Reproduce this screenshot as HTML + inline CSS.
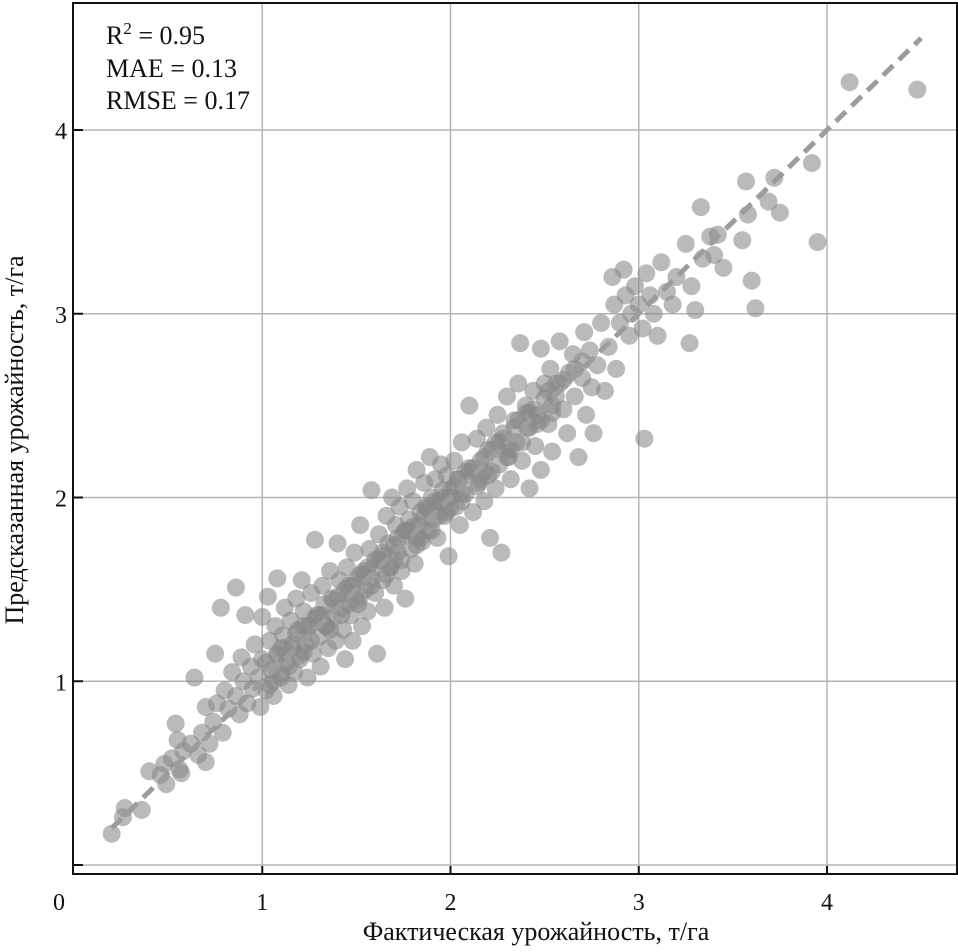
<!DOCTYPE html>
<html><head><meta charset="utf-8"><style>
body{margin:0;background:#fff;}
svg text{font-family:"Liberation Serif",serif;fill:#111;}
</style></head><body>
<svg id="chart" width="958" height="947" viewBox="0 0 958 947" xmlns="http://www.w3.org/2000/svg">
<g id="grid"></g>
<g id="pts"></g>
<g id="ref"></g>
<rect x="73" y="3" width="884" height="871" fill="none" stroke="#111" stroke-width="2"/>
<g id="ticks"></g>
<g font-size="26">
<text x="106" y="44">R<tspan dy="-10" font-size="17">2</tspan><tspan dy="10"> = 0.95</tspan></text>
<text x="106" y="77">MAE = 0.13</text>
<text x="106" y="109">RMSE = 0.17</text>
</g>
<text x="536" y="940" font-size="26" text-anchor="middle">Фактическая урожайность, т/га</text>
<text transform="translate(23,440) rotate(-90)" font-size="26" text-anchor="middle">Предсказанная урожайность, т/га</text>
</svg>
<script>
const xTicks=[0,1,2,3,4];
const yTicks=[1,2,3,4];
const actual=[0.20,0.26,0.27,0.36,0.40,0.46,0.49,0.48,0.52,0.54,0.55,0.56,0.58,0.57,0.62,0.64,0.66,0.68,0.70,0.70,0.72,0.74,0.75,0.76,0.78,0.79,0.80,0.82,0.84,0.86,0.86,0.88,0.89,0.90,0.91,0.92,0.94,0.95,0.96,0.98,0.99,1.00,1.00,1.02,1.03,1.04,1.05,1.06,1.07,1.08,1.08,1.10,1.11,1.12,1.13,1.14,1.15,1.16,1.17,1.18,1.19,1.20,1.21,1.22,1.23,1.24,1.25,1.26,1.27,1.28,1.29,1.30,1.31,1.32,1.33,1.34,1.35,1.36,1.37,1.38,1.39,1.40,1.41,1.42,1.43,1.44,1.45,1.46,1.47,1.48,1.49,1.50,1.51,1.52,1.53,1.54,1.55,1.56,1.57,1.58,1.59,1.60,1.61,1.62,1.63,1.64,1.65,1.66,1.67,1.68,1.69,1.70,1.71,1.72,1.73,1.74,1.75,1.76,1.77,1.78,1.79,1.80,1.81,1.82,1.83,1.84,1.85,1.86,1.87,1.88,1.89,1.90,1.91,1.92,1.93,1.94,1.95,1.96,1.97,1.98,1.99,2.00,2.02,2.03,2.04,2.05,2.06,2.08,2.10,2.10,2.12,2.14,2.15,2.16,2.18,2.19,2.20,2.21,2.22,2.24,2.25,2.26,2.27,2.28,2.30,2.31,2.32,2.34,2.35,2.36,2.37,2.38,2.40,2.41,2.42,2.44,2.45,2.46,2.48,2.48,2.50,2.52,2.53,2.54,2.56,2.58,2.60,2.62,2.63,2.65,2.66,2.68,2.70,2.71,2.72,2.74,2.75,2.76,2.78,2.80,2.82,2.84,2.86,2.87,2.88,2.90,2.92,2.93,2.95,2.96,2.98,3.00,3.02,3.03,3.04,3.06,3.08,3.10,3.12,3.15,3.18,3.20,3.25,3.27,3.28,3.30,3.33,3.34,3.38,3.40,3.42,3.45,3.55,3.57,3.58,3.60,3.62,3.69,3.72,3.75,3.92,3.95,4.12,4.48,
1.02,1.06,1.10,1.14,1.18,1.22,1.26,1.30,1.34,1.38,1.42,1.46,1.50,1.54,1.58,1.62,1.66,1.70,1.74,1.78,1.82,1.86,1.90,1.94,1.98,2.02,2.06,2.10,2.14,2.18,2.22,2.26,2.30,2.34,2.38,2.42,2.46,2.50,2.54,2.58,
1.04,1.12,1.20,1.28,1.36,1.44,1.52,1.60,1.68,1.76,1.84,1.92,2.00,2.08,2.16,2.24,2.32,2.40,2.48,2.56,
1.08,1.16,1.24,1.32,1.40,1.48,1.56,1.64,1.72,1.80,1.88,1.96,2.04,2.12,2.20,2.28,2.36,2.44,2.52,2.60,2.66,2.70,
1.10,1.22,1.34,1.46,1.58,1.70,1.82,1.94,2.06,2.18,2.30,2.42,2.54,1.52,1.64,1.76,1.88,2.00];
const predicted=[0.17,0.26,0.31,0.30,0.51,0.49,0.44,0.55,0.58,0.77,0.68,0.52,0.62,0.50,0.66,1.02,0.60,0.72,0.86,0.56,0.66,0.78,1.15,0.88,1.40,0.72,0.95,0.85,1.05,1.51,0.92,0.82,1.13,1.00,1.36,0.88,1.08,0.96,1.20,1.02,0.86,1.35,1.12,0.95,1.46,1.22,1.06,0.92,1.30,1.56,1.15,1.02,1.25,1.40,1.10,0.98,1.33,1.18,1.05,1.45,1.28,1.12,1.55,1.38,1.20,1.02,1.30,1.48,1.15,1.77,1.36,1.24,1.08,1.52,1.42,1.30,1.18,1.60,1.45,1.35,1.22,1.75,1.55,1.40,1.28,1.12,1.62,1.48,1.36,1.22,1.70,1.55,1.42,1.85,1.30,1.60,1.50,1.38,1.72,2.04,1.62,1.48,1.15,1.80,1.66,1.55,1.40,1.90,1.75,1.62,2.00,1.52,1.85,1.70,1.95,1.60,1.80,1.45,2.05,1.88,1.72,1.98,1.64,2.15,1.85,1.92,1.76,2.08,1.95,1.82,2.22,2.00,1.88,2.10,1.78,1.96,2.18,2.04,1.90,2.12,1.68,2.00,2.20,1.95,2.10,1.85,2.30,2.02,2.50,2.16,1.92,2.32,2.08,2.20,1.98,2.38,2.12,1.78,2.26,2.05,2.45,2.18,1.70,2.35,2.55,2.22,2.10,2.42,2.30,2.62,2.84,2.20,2.50,2.38,2.05,2.58,2.28,2.45,2.81,2.15,2.62,2.40,2.70,2.25,2.55,2.85,2.48,2.35,2.68,2.78,2.55,2.22,2.65,2.90,2.45,2.80,2.60,2.35,2.72,2.95,2.58,2.82,3.20,3.05,2.70,2.95,3.24,3.10,2.88,3.00,3.15,3.05,2.92,2.32,3.22,3.10,3.00,2.88,3.28,3.12,3.05,3.20,3.38,2.84,3.15,3.02,3.58,3.30,3.42,3.32,3.43,3.25,3.40,3.72,3.54,3.18,3.03,3.61,3.74,3.55,3.82,3.39,4.26,4.22,
1.10,1.00,1.18,1.08,1.26,1.30,1.22,1.36,1.30,1.44,1.36,1.52,1.44,1.58,1.52,1.66,1.58,1.74,1.66,1.82,1.74,1.90,1.82,1.98,1.92,2.06,1.98,2.14,2.06,2.22,2.14,2.30,2.22,2.38,2.30,2.46,2.40,2.54,2.46,2.62,
0.98,1.18,1.14,1.34,1.28,1.50,1.46,1.66,1.62,1.82,1.78,1.98,1.94,2.14,2.10,2.30,2.26,2.46,2.42,2.62,
1.14,1.20,1.30,1.36,1.46,1.52,1.62,1.68,1.78,1.84,1.94,2.00,2.10,2.16,2.26,2.32,2.42,2.48,2.58,2.64,2.70,2.74,
1.04,1.16,1.30,1.42,1.56,1.66,1.78,1.90,2.02,2.14,2.26,2.38,2.50,1.58,1.70,1.82,1.94,2.04];
const refLine=[0.2,4.5];
const X0=74,XS=188.25,Y0=865,YS=183.75;
const sx=v=>X0+v*XS, sy=v=>Y0-v*YS;
const NS="http://www.w3.org/2000/svg";
const grid=document.getElementById('grid'),ticks=document.getElementById('ticks'),pts=document.getElementById('pts'),ref=document.getElementById('ref');
function mk(tag,attrs,parent){const e=document.createElementNS(NS,tag);for(const k in attrs)e.setAttribute(k,attrs[k]);parent.appendChild(e);return e;}
xTicks.forEach(t=>{
  if(t>0){const g=mk('line',{x1:sx(t),x2:sx(t),y1:3,y2:874,stroke:'#b5b5b5','stroke-width':1.5},grid);
  
  
  const tk=mk('line',{x1:sx(t),x2:sx(t),y1:866,y2:874,stroke:'#111','stroke-width':2},ticks);
  
  }
  const lb=mk('text',{x:t===0?59:sx(t),y:910,'font-size':24,'text-anchor':'middle'},ticks);
  lb.textContent=t;
  
  
});
[0].concat(yTicks).forEach(t=>{
  const g=mk('line',{x1:73,x2:957,y1:sy(t),y2:sy(t),stroke:'#b5b5b5','stroke-width':1.5},grid);
  
  
  const tk=mk('line',{x1:73,x2:83,y1:sy(t),y2:sy(t),stroke:'#111','stroke-width':2},ticks);
  
  
  if(t>0){const lb=mk('text',{x:67,y:sy(t)+9,'font-size':24,'text-anchor':'end'},ticks);
  lb.textContent=t;
  
  }
});
actual.forEach((a,i)=>{
  const c=mk('circle',{cx:sx(a),cy:sy(predicted[i]),r:9,fill:'#888','fill-opacity':0.58},pts);
  
  
});
const l=mk('line',{x1:sx(refLine[0]),y1:sy(refLine[0]),x2:sx(refLine[1]),y2:sy(refLine[1]),stroke:'#9c9c9c','stroke-width':5,'stroke-dasharray':'14 8'},ref);


</script>
</body></html>
